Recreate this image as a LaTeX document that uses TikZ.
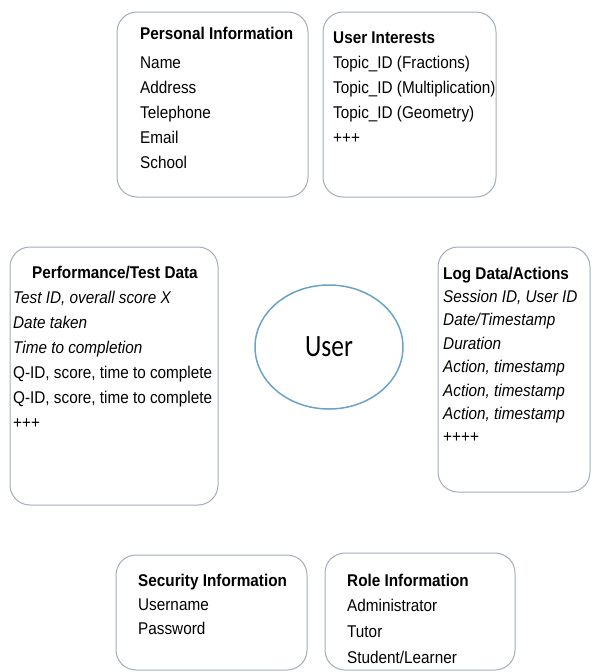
\documentclass[tikz,border=0pt]{standalone}
\usepackage{fontspec}
\setmainfont{Liberation Sans}[FakeStretch=0.9]
\newfontfamily\userfont{Carlito}[FakeStretch=0.82]
\usepackage{xcolor}
\usetikzlibrary{shapes}
\definecolor{boxline}{HTML}{A3ADBA}
\definecolor{userline}{HTML}{6AA3C6}
\tikzstyle{block} = [rectangle, draw=boxline, line width=1pt, rounded corners=20pt, fill=white]
\tikzstyle{info} = [anchor=north west, inner sep=0pt, align=left, font=\fontsize{17}{25}\selectfont]

\begin{document}
\begin{tikzpicture}[x=1pt, y=-1pt]
\useasboundingbox (0,0) rectangle (594,672);

% the centre
\node [ellipse, draw=userline, line width=1.5pt, minimum width=148pt, minimum height=124pt, font=\userfont\fontsize{31}{31}\selectfont] (user) at (329,347) {User};

% top row
\node [block, minimum width=191pt, minimum height=185pt] (personal) at (212.5,104.5) {};
\node [block, minimum width=173pt, minimum height=185pt] (interests) at (409.5,104.5) {};

\node [info] (personaltxt) at (140,26.5) {\textbf{Personal Information}\\[4pt]Name\\Address\\Telephone\\Email\\School};
\node [info] (intereststxt) at (333,31.5) {\textbf{User Interests}\\Topic\_ID (Fractions)\\Topic\_ID (Multiplication)\\Topic\_ID (Geometry)\\+++};

% middle row
\node [block, minimum width=208pt, minimum height=258pt] (perf) at (114,376) {};
\node [block, minimum width=152pt, minimum height=245pt] (log) at (514,369.5) {};

\node [info] (perftxt) at (13,265.5) {\hspace*{19pt}\textbf{Performance/Test Data}\\\textit{Test ID, overall score X}\\\textit{Date taken}\\\textit{Time to completion}\\Q-ID, score, time to complete\\Q-ID, score, time to complete\\+++};
\node [info, font=\fontsize{17}{23.4}\selectfont] (logtxt) at (443,266.5) {\textbf{Log Data/Actions}\\\textit{Session ID, User ID}\\\textit{Date/Timestamp}\\\textit{Duration}\\\textit{Action, timestamp}\\\textit{Action, timestamp}\\\textit{Action, timestamp}\\++++};

% bottom row
\node [block, minimum width=191pt, minimum height=115pt] (security) at (211.5,612.5) {};
\node [block, minimum width=190pt, minimum height=117pt] (role) at (420,611.5) {};

\node [info, font=\fontsize{17}{24}\selectfont] (securitytxt) at (138,573.5) {\textbf{Security Information}\\Username\\Password};
\node [info, font=\fontsize{17}{25.7}\selectfont] (roletxt) at (347,573.5) {\textbf{Role Information}\\Administrator\\Tutor\\Student/Learner};

\end{tikzpicture}
\end{document}
